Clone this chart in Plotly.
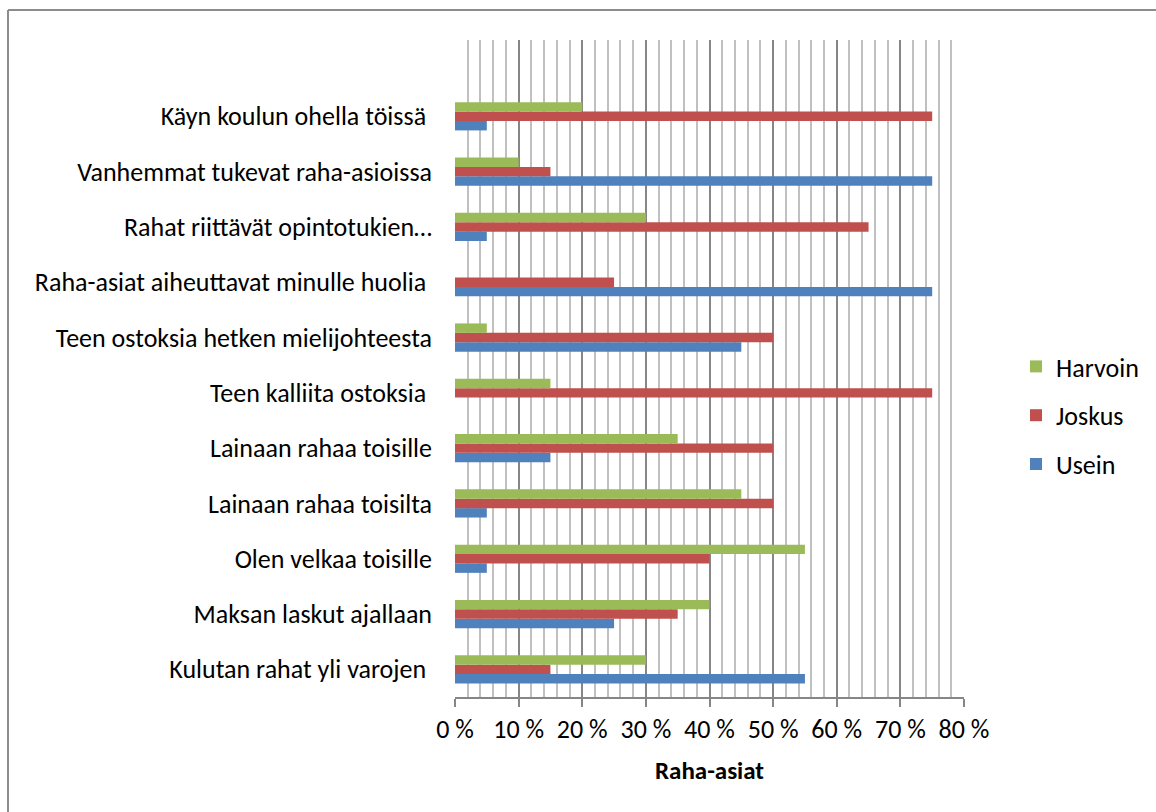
import plotly.graph_objects as go

categories = [
    "Kulutan rahat yli varojen ",
    "Maksan laskut ajallaan",
    "Olen velkaa toisille",
    "Lainaan rahaa toisilta",
    "Lainaan rahaa toisille",
    "Teen kalliita ostoksia ",
    "Teen ostoksia hetken mielijohteesta",
    "Raha-asiat aiheuttavat minulle huolia ",
    "Rahat riittävät opintotukien…",
    "Vanhemmat tukevat raha-asioissa",
    "Käyn koulun ohella töissä ",
]
usein = [55, 25, 5, 5, 15, 0, 45, 75, 5, 75, 5]
joskus = [15, 35, 40, 50, 50, 75, 50, 25, 65, 15, 75]
harvoin = [30, 40, 55, 45, 35, 15, 5, 0, 30, 10, 20]

series = [("Usein", usein, "#4F81BD", 3), ("Joskus", joskus, "#C0504D", 2),
          ("Harvoin", harvoin, "#9BBB59", 1)]
x_ticks = list(range(0, 81, 10))
x_ticktext = [f"{v} %" for v in x_ticks]

W, H = 1156, 812
L, R, T, B = 455, 964, 40, 697
FS = 26

fig = go.Figure()
for name, vals, col, rank in series:
    fig.add_trace(go.Bar(
        y=categories, x=vals, name=name, orientation="h", legendgroup=name,
        legendrank=rank,
        marker=dict(color=col, line=dict(width=0)),
    ))

font = "Calibri, Carlito, 'Liberation Sans', Arial, sans-serif"

fig.update_layout(
    width=W, height=H,
    margin=dict(l=L, r=W - R, t=T, b=H - B, pad=0, autoexpand=False),
    paper_bgcolor="white", plot_bgcolor="white",
    barmode="group", bargap=0.49, bargroupgap=0,
    font=dict(family=font, size=FS, color="#000000"),
    showlegend=True,
    legend=dict(traceorder="grouped", xref="container", yref="container",
                x=1016 / W, xanchor="left",
                y=1 - 343 / H, yanchor="top",
                font=dict(size=FS), tracegroupgap=12, itemwidth=30,
                bgcolor="rgba(0,0,0,0)"),
    xaxis=dict(
        range=[0, 80], tickvals=x_ticks, ticktext=x_ticktext,
        showgrid=True, gridcolor="#868686", gridwidth=1.6,
        minor=dict(dtick=2, showgrid=True, gridcolor="#c0c0c0", gridwidth=1.6,
                   ticks=""),
        ticks="outside", ticklen=8, tickcolor="#868686", tickwidth=1.6,
        showline=True, linecolor="#868686", linewidth=1.6,
        zeroline=False, automargin=False,
        tickfont=dict(size=FS),
        title=dict(text="<b>Raha-asiat</b>", font=dict(size=25), standoff=17),
    ),
    yaxis=dict(
        type="category", categoryorder="array", categoryarray=categories,
        range=[-0.5, 11.38], automargin=False,
        showgrid=False, showline=False, zeroline=False, ticks="",
        ticklabelstandoff=22, tickfont=dict(size=FS),
    ),
    shapes=[
        dict(type="line", xref="paper", yref="paper",
             x0=(8 - L) / (R - L), x1=(W + 5 - L) / (R - L),
             y0=(B - 10) / (B - T), y1=(B - 10) / (B - T),
             line=dict(color="#8c8c8c", width=2)),
        dict(type="line", xref="paper", yref="paper",
             x0=(8 - L) / (R - L), x1=(8 - L) / (R - L),
             y0=(B - 10) / (B - T), y1=(B - H - 5) / (B - T),
             line=dict(color="#8c8c8c", width=2)),
    ],
)

fig.write_html("out.html")
